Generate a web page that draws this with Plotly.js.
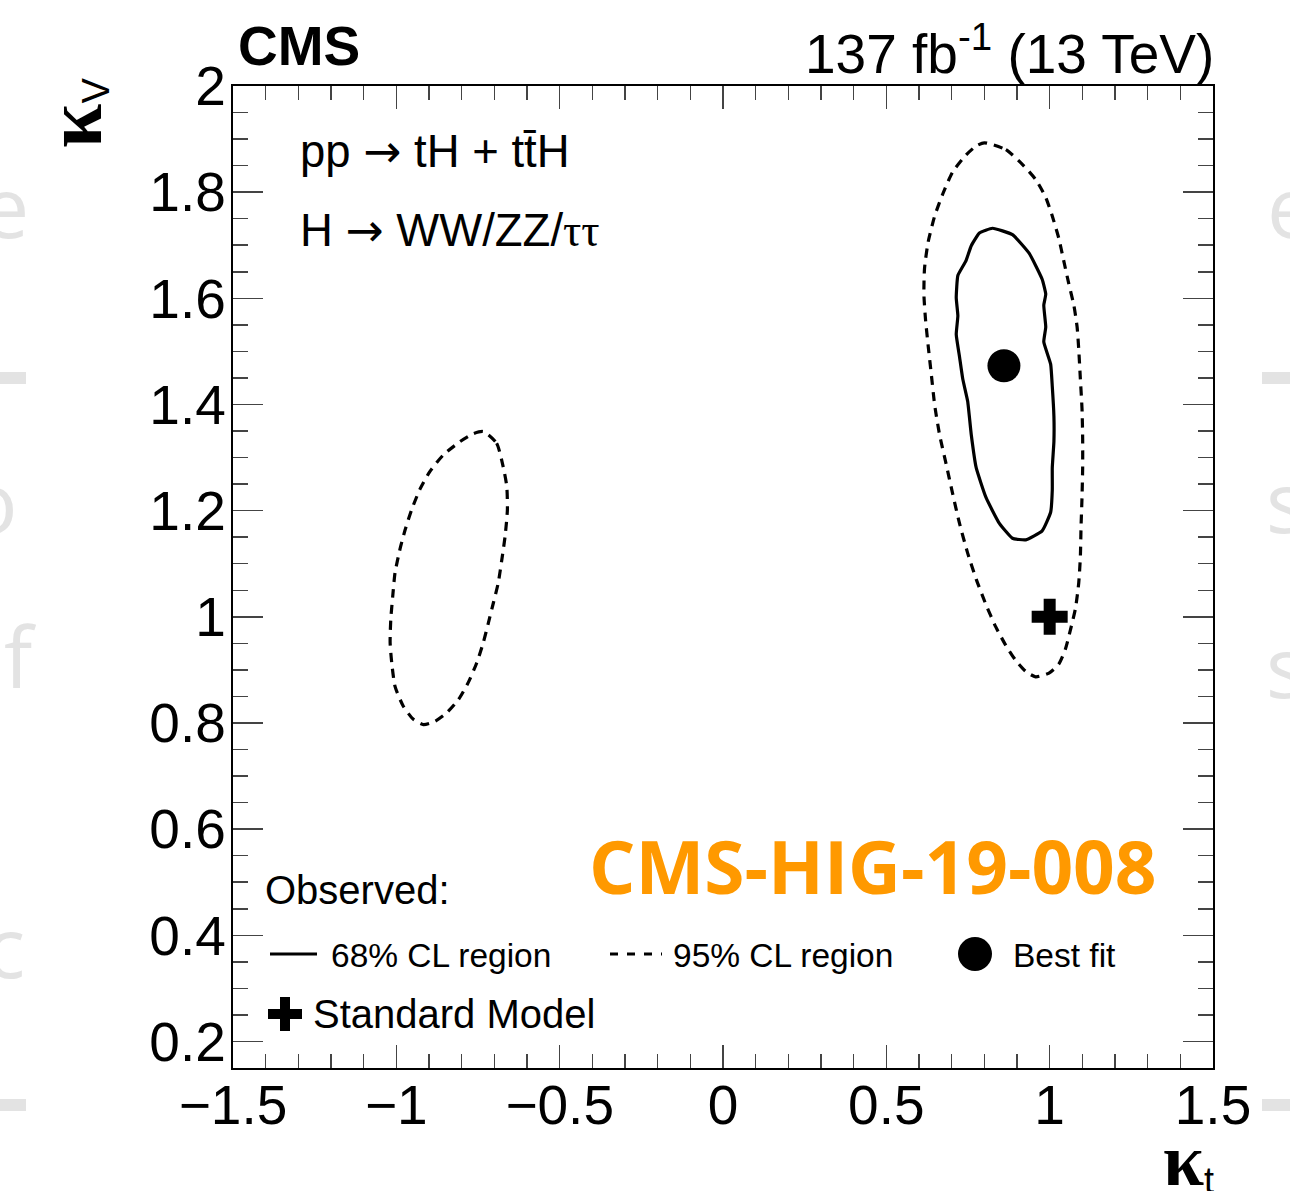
<!DOCTYPE html>
<html>
<head>
<meta charset="utf-8">
<script src="https://cdn.plot.ly/plotly-3.0.1.min.js"></script>
<style>
html,body{margin:0;padding:0;background:#fff;}
#chart{width:1290px;height:1191px;}
</style>
</head>
<body>
<div id="chart"></div>
<script>
// ---- data (kappa_t, kappa_V) ----
const cl68_kt = [0.825,0.886,0.937,0.977,0.988,0.982,0.988,0.982,1.003,1.008,1.013,1.013,1.008,1.008,1.003,0.977,0.927,0.886,0.846,0.805,0.775,0.760,0.749,0.734,0.724,0.714,0.719,0.714,0.719,0.744,0.760,0.785,0.825];
const cl68_kv = [1.732,1.720,1.685,1.636,1.608,1.587,1.546,1.518,1.476,1.434,1.378,1.330,1.281,1.239,1.197,1.162,1.145,1.148,1.176,1.225,1.281,1.343,1.406,1.448,1.490,1.532,1.567,1.601,1.643,1.671,1.699,1.723,1.732];

const cl95a_kt = [0.800,0.866,0.917,0.957,0.988,1.008,1.028,1.043,1.058,1.074,1.084,1.089,1.094,1.099,1.101,1.101,1.099,1.096,1.094,1.089,1.079,1.063,1.048,1.028,0.998,0.957,0.927,0.896,0.866,0.835,0.805,0.775,0.749,0.724,0.703,0.683,0.663,0.648,0.638,0.628,0.620,0.615,0.617,0.628,0.648,0.673,0.703,0.744,0.775,0.800];
const cl95a_kv = [1.893,1.880,1.852,1.824,1.790,1.755,1.713,1.671,1.629,1.587,1.546,1.504,1.448,1.392,1.336,1.281,1.225,1.169,1.113,1.064,1.016,0.974,0.939,0.911,0.894,0.887,0.897,0.918,0.946,0.981,1.023,1.071,1.120,1.176,1.232,1.288,1.343,1.399,1.455,1.511,1.560,1.608,1.657,1.706,1.755,1.797,1.838,1.870,1.887,1.893];

const cl95b_kt = [-0.734,-0.693,-0.673,-0.662,-0.660,-0.667,-0.677,-0.688,-0.703,-0.718,-0.734,-0.754,-0.780,-0.810,-0.846,-0.882,-0.917,-0.948,-0.979,-1.004,-1.014,-1.019,-1.017,-1.011,-1.004,-0.989,-0.973,-0.953,-0.928,-0.897,-0.856,-0.805,-0.764,-0.734];
const cl95b_kv = [1.349,1.327,1.283,1.246,1.202,1.152,1.108,1.064,1.026,0.989,0.951,0.913,0.876,0.844,0.819,0.803,0.797,0.807,0.832,0.869,0.913,0.951,0.995,1.039,1.083,1.127,1.164,1.202,1.240,1.274,1.305,1.330,1.345,1.349];

const bestFit_kt = [0.86];
const bestFit_kv = [1.473];
const sm_kt = [1.0];
const sm_kv = [1.0];

const xTickVals = [-1.5,-1,-0.5,0,0.5,1,1.5];
const xTickText = ['\u22121.5','\u22121','\u22120.5','0','0.5','1','1.5'];
const yTickVals = [0.2,0.4,0.6,0.8,1,1.2,1.4,1.6,1.8,2];
const yTickText = ['0.2','0.4','0.6','0.8','1','1.2','1.4','1.6','1.8','2'];

const legendLabels = ['Observed:','68% CL region','95% CL region','Best fit','Standard Model'];

// ---- plot ----
const F = 'Liberation Sans, Arial, Helvetica, sans-serif';
const ARROW = '<span style="font-family:DejaVu Sans">\u2192</span>';
const traces = [
  {x: cl95a_kt, y: cl95a_kv, mode:'lines', line:{color:'#000', width:3.2, dash:'9px,7px', shape:'spline', smoothing:0.6}},
  {x: cl95b_kt, y: cl95b_kv, mode:'lines', line:{color:'#000', width:3.2, dash:'9px,7px', shape:'spline', smoothing:0.6}},
  {x: cl68_kt, y: cl68_kv, mode:'lines', line:{color:'#000', width:3.2, shape:'spline', smoothing:0.4}},
  {x: bestFit_kt, y: bestFit_kv, mode:'markers', marker:{symbol:'circle', size:33, color:'#000'}},
  {x: sm_kt, y: sm_kv, mode:'markers', marker:{symbol:'cross', size:30, color:'#000'}}
];

// pixel -> paper helpers (layout only)
const L=233, R=1213, T=86, B=1068;
const px = v => (v-L)/(R-L);
const py = v => (B-v)/(B-T);

const ann = [];
function txt(text, x, y, size, opts){
  ann.push(Object.assign({text:text, xref:'paper', yref:'paper', x:px(x), y:py(y), showarrow:false,
    xanchor:'left', yanchor:'middle', font:{family:F, size:size, color:'#000'}}, opts||{}));
}
txt('<b>CMS</b>', 236, 46, 55);
txt('137 fb<sup>-1</sup> (13 TeV)', 1216, 50, 55, {xanchor:'right'});
txt('pp ' + ARROW + ' tH + tt\u0304H', 298, 151, 45.5);
txt('H ' + ARROW + ' WW/ZZ/<span style="font-family:Liberation Serif">\u03C4\u03C4</span>', 298, 231, 45.5);
txt(legendLabels[0], 263, 890, 40);
txt(legendLabels[1], 329, 955, 33.5);
txt(legendLabels[2], 671, 955, 33.5);
txt(legendLabels[3], 1011, 955, 33.5);
txt(legendLabels[4], 311, 1014, 40);
txt('<b>CMS-HIG-19-008</b>', 873, 865, 73, {xanchor:'center', font:{family:'Open Sans, sans-serif', size:73, color:'#ff9900'}});
txt('<b><span style="font-family:Liberation Serif;font-size:80px">\u03BA</span></b><sub><span style="font-size:38px">V</span></sub>', 74, 113, 40, {xanchor:'center', textangle:-90});
txt('<b><span style="font-family:Liberation Serif;font-size:74px">\u03BA</span></b><sub><span style="font-size:36px">t</span></sub>', 1188, 1160, 40, {xanchor:'center'});
// faint background remnants at the page edges
const g = {family:'Open Sans, sans-serif', size:84, color:'#e3e3e3'};
txt('e', 5, 205, 84, {xanchor:'center', font:g});
txt('e', 1290, 205, 84, {xanchor:'center', font:g});
txt('o', -8, 500, 84, {xanchor:'center', font:g});
txt('s', 1286, 500, 84, {xanchor:'center', font:g});
txt('f', 20, 655, 84, {xanchor:'center', font:g});
txt('s', 1286, 665, 84, {xanchor:'center', font:g});
txt('c', 5, 945, 84, {xanchor:'center', font:g});

const shapes = [
  // legend samples
  {type:'line', xref:'paper', yref:'paper', x0:px(270), x1:px(317), y0:py(954), y1:py(954), line:{color:'#000', width:2.8}},
  {type:'line', xref:'paper', yref:'paper', x0:px(610), x1:px(662), y0:py(954), y1:py(954), line:{color:'#000', width:2.8, dash:'8px,9px'}},
  {type:'circle', xref:'paper', yref:'paper', x0:px(958), x1:px(992), y0:py(971), y1:py(937), fillcolor:'#000', line:{width:0}},
  {type:'rect', xref:'paper', yref:'paper', x0:px(268), x1:px(302), y0:py(1019), y1:py(1009), fillcolor:'#000', line:{width:0}},
  {type:'rect', xref:'paper', yref:'paper', x0:px(280), x1:px(290), y0:py(1031), y1:py(997), fillcolor:'#000', line:{width:0}},
  // faint edge dashes
  {type:'rect', xref:'paper', yref:'paper', x0:px(-2), x1:px(26), y0:py(384), y1:py(372), fillcolor:'#e3e3e3', line:{width:0}, layer:'below'},
  {type:'rect', xref:'paper', yref:'paper', x0:px(1262), x1:px(1292), y0:py(384), y1:py(372), fillcolor:'#e3e3e3', line:{width:0}, layer:'below'},
  {type:'rect', xref:'paper', yref:'paper', x0:px(-2), x1:px(26), y0:py(1111), y1:py(1099), fillcolor:'#e3e3e3', line:{width:0}, layer:'below'},
  {type:'rect', xref:'paper', yref:'paper', x0:px(1262), x1:px(1292), y0:py(1111), y1:py(1099), fillcolor:'#e3e3e3', line:{width:0}, layer:'below'}
];

const layout = {
  width:1290, height:1191,
  margin:{l:L, r:1290-R, t:T, b:1191-B},
  paper_bgcolor:'#fff', plot_bgcolor:'rgba(0,0,0,0)',
  showlegend:false, hovermode:false,
  xaxis:{range:[-1.5,1.5], tickmode:'array', tickvals:xTickVals, ticktext:xTickText,
    ticks:'inside', ticklen:23, tickwidth:1.5, tickcolor:'#444', ticklabelstandoff:-12,
    minor:{dtick:0.1, tick0:-1.5, ticks:'inside', ticklen:14, tickwidth:1.5, tickcolor:'#444'},
    showline:true, linecolor:'#000', linewidth:2.2, mirror:'allticks',
    showgrid:false, zeroline:false,
    tickfont:{family:F, size:55, color:'#000'}},
  yaxis:{range:[0.15,2], tickmode:'array', tickvals:yTickVals, ticktext:yTickText,
    ticks:'inside', ticklen:30, tickwidth:1.5, tickcolor:'#444', ticklabelstandoff:-6,
    minor:{dtick:0.05, tick0:0.15, ticks:'inside', ticklen:15, tickwidth:1.5, tickcolor:'#444'},
    showline:true, linecolor:'#000', linewidth:2.2, mirror:'allticks',
    showgrid:false, zeroline:false,
    tickfont:{family:F, size:55, color:'#000'}},
  annotations:ann,
  shapes:shapes
};

Plotly.newPlot('chart', traces, layout, {displayModeBar:false, staticPlot:true});
</script>
</body>
</html>
